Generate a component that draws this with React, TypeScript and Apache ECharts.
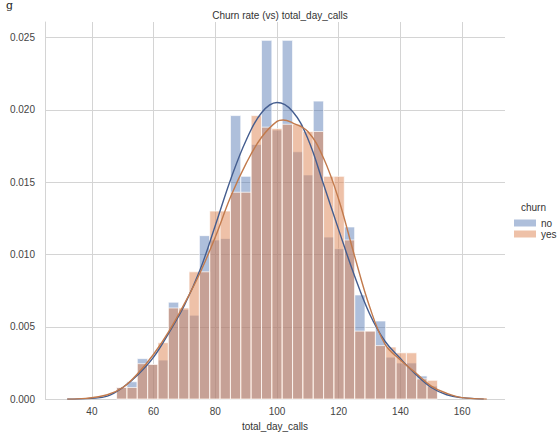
import React, { useEffect, useRef } from "react";
import * as echarts from "echarts";

// histogram bin edges (total_day_calls)
const binEdges = [
  48.0, 51.36, 54.71, 58.07, 61.42, 64.78, 68.13, 71.49, 74.84, 78.2, 81.55,
  84.91, 88.26, 91.62, 94.97, 98.33, 101.68, 105.04, 108.39, 111.75, 115.1,
  118.46, 121.81, 125.17, 128.52, 131.88, 135.23, 138.59, 141.94, 145.3,
  148.65, 152.01,
];

// density per bin, churn = no
const noDensity = [
  0.0008, 0.0012, 0.0028, 0.0024, 0.0027, 0.0067, 0.0062, 0.0058, 0.0113,
  0.011, 0.0111, 0.0196, 0.0154, 0.0176, 0.0248, 0.0186, 0.0248, 0.0171,
  0.0155, 0.0206, 0.0112, 0.0104, 0.0119, 0.0072, 0.0047, 0.0054, 0.0029,
  0.0025, 0.0025, 0.0016, 0.0009,
];

// density per bin, churn = yes
const yesDensity = [
  0.0008, 0.0008, 0.00245, 0.0024, 0.0039, 0.0063, 0.0063, 0.0088, 0.0088,
  0.013, 0.013, 0.0143, 0.0143, 0.0196, 0.0188, 0.0187, 0.019, 0.019, 0.0185,
  0.0185, 0.0154, 0.0154, 0.011, 0.0047, 0.0047, 0.0037, 0.0036, 0.0032,
  0.0032, 0.0014, 0.0013,
];

// KDE curves
const noKdeX = [32, 40, 45, 50, 55, 60, 65, 70, 75, 80, 85, 90, 95, 100, 105, 110, 115, 120, 125, 130, 135, 140, 145, 150, 155, 160, 167];
const noKdeY = [0, 0.00005, 0.0002, 0.0008, 0.0017, 0.0029, 0.0046, 0.0065, 0.0089, 0.012, 0.0152, 0.0179, 0.0198, 0.0205, 0.0199, 0.018, 0.0149, 0.0117, 0.0086, 0.0059, 0.004, 0.0028, 0.0017, 0.0008, 0.0003, 0.0001, 0];

const yesKdeX = [32, 38, 45, 50, 55, 60, 65, 70, 75, 80, 85, 90, 95, 100, 102, 105, 110, 115, 120, 125, 130, 135, 140, 145, 150, 155, 160, 168];
const yesKdeY = [0, 0.00005, 0.0003, 0.0008, 0.0018, 0.0031, 0.0047, 0.0066, 0.0087, 0.0112, 0.014, 0.0163, 0.0181, 0.0192, 0.0193, 0.0191, 0.0185, 0.0167, 0.0138, 0.01, 0.0064, 0.0038, 0.0027, 0.0018, 0.0009, 0.0004, 0.0001, 0];

const xTicks = [40, 60, 80, 100, 120, 140, 160];
const yTicks = [0, 0.005, 0.01, 0.015, 0.02, 0.025];

const FONT = "'Liberation Sans', Arial, sans-serif";
const BLUE_FILL = "rgba(76,114,176,0.45)";
const ORANGE_FILL = "rgba(221,132,82,0.5)";

function toBars(dens: number[]) {
  return dens.map((d, i) => [binEdges[i], binEdges[i + 1], d]);
}

function histSeries(name: string, dens: number[], fill: string) {
  return {
    type: "custom",
    name,
    itemStyle: { color: fill },
    encode: { x: [0, 1], y: 2 },
    data: toBars(dens),
    renderItem: (params: any, api: any) => {
      const p0 = api.coord([api.value(0), api.value(2)]);
      const p1 = api.coord([api.value(1), 0]);
      return {
        type: "rect",
        shape: { x: p0[0], y: p0[1], width: p1[0] - p0[0], height: p1[1] - p0[1] },
        style: { fill, stroke: "#ffffff", lineWidth: 0.7 },
      };
    },
  };
}

export default function App() {
  const ref = useRef<HTMLDivElement>(null);
  useEffect(() => {
    document.body.style.margin = "0";
    const chart = echarts.init(ref.current!, null, { renderer: "svg" });
    chart.setOption({
      animation: false,
      backgroundColor: "#ffffff",
      textStyle: { fontFamily: FONT },
      title: {
        text: "Churn rate (vs) total_day_calls",
        left: 275,
        top: 5,
        textAlign: "center",
        textStyle: { fontSize: 10, fontWeight: "normal", color: "#333", fontFamily: FONT },
      },
      legend: {
        orient: "vertical",
        left: 509,
        top: 213,
        itemWidth: 22,
        itemHeight: 7,
        itemGap: 1,
        data: [
          { name: "no", icon: "rect" },
          { name: "yes", icon: "rect" },
        ],
        textStyle: { fontSize: 10, color: "#333", fontFamily: FONT },
      },
      graphic: [
        {
          type: "text",
          x: 521,
          y: 202,
          style: { text: "churn", fontSize: 10, fill: "#333", fontFamily: FONT },
        },
        {
          type: "text",
          x: 6,
          y: 0,
          style: { text: "g", fontSize: 11, fill: "#222", fontFamily: "'DejaVu Serif', 'Liberation Serif', serif" },
        },
      ],
      grid: { left: 45, right: 52, top: 22, bottom: 30 },
      xAxis: {
        type: "value",
        min: 24.8,
        max: 173.9,
        name: "total_day_calls",
        nameLocation: "middle",
        nameGap: 20,
        nameTextStyle: { fontSize: 10, color: "#333", fontFamily: FONT },
        axisLine: { show: false },
        axisTick: { show: false, customValues: xTicks },
        axisLabel: { customValues: xTicks, fontSize: 10, color: "#444", margin: 7, fontFamily: FONT },
        splitLine: { show: true, lineStyle: { color: "#d4d4d4", width: 1 } },
      },
      yAxis: {
        type: "value",
        min: 0,
        max: 0.02607,
        axisLine: { show: true, lineStyle: { color: "#d4d4d4" } },
        axisTick: { show: false, customValues: yTicks },
        axisLabel: {
          customValues: yTicks,
          fontSize: 10,
          color: "#444",
          margin: 10,
          fontFamily: FONT,
          formatter: (v: number) => v.toFixed(3),
        },
        splitLine: { show: true, lineStyle: { color: "#d4d4d4", width: 1 } },
      },
      series: [
        histSeries("no", noDensity, BLUE_FILL),
        histSeries("yes", yesDensity, ORANGE_FILL),
        {
          type: "line",
          name: "no kde",
          data: noKdeX.map((x, i) => [x, noKdeY[i]]),
          smooth: 0.4,
          showSymbol: false,
          lineStyle: { color: "#445d8f", width: 1.4 },
          itemStyle: { color: "#445d8f" },
          z: 5,
        },
        {
          type: "line",
          name: "yes kde",
          data: yesKdeX.map((x, i) => [x, yesKdeY[i]]),
          smooth: 0.4,
          showSymbol: false,
          lineStyle: { color: "#c27a4c", width: 1.4 },
          itemStyle: { color: "#c27a4c" },
          z: 5,
        },
      ],
    });
    return () => chart.dispose();
  }, []);
  return <div ref={ref} style={{ width: 557, height: 436 }} />;
}
